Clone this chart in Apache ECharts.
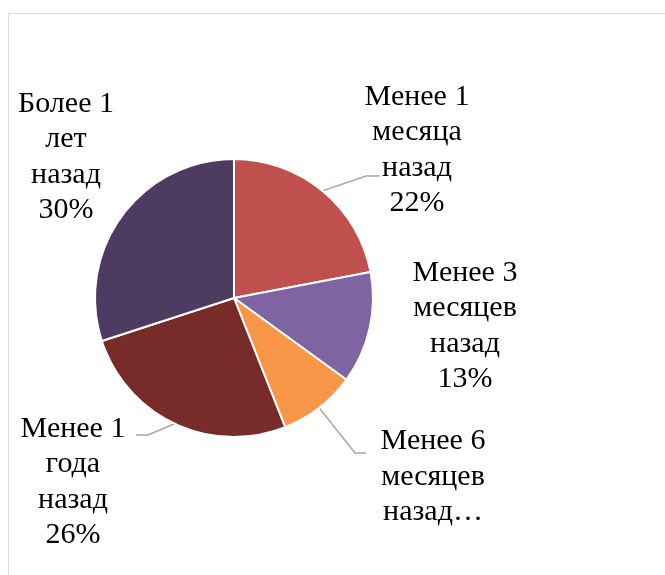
<!DOCTYPE html>
<html><head><meta charset="utf-8">
<script src="https://cdn.jsdelivr.net/npm/echarts@6/dist/echarts.min.js"></script>
<style>html,body{margin:0;padding:0;background:#fff}#c{width:665px;height:575px}</style>
</head><body><div id="c"></div>
<script>
const categories = ['Менее 1 месяца назад','Менее 3 месяцев назад','Менее 6 месяцев назад','Менее 1 года назад','Более 1 лет назад'];
const values = [22, 13, 9, 26, 30];
const labelTexts = ['Менее 1\nмесяца\nназад\n22%','Менее 3\nмесяцев\nназад\n13%','Менее 6\nмесяцев\nназад…','Менее 1\nгода\nназад\n26%','Более 1\nлет\nназад\n30%'];
const colors = ['#C0504D','#8064A2','#F79646','#772C2A','#4D3B62'];
const showLines = [true,false,true,true,false];
const labelPos = [[417,150],[465,326],[433,477],[73,482],[66,157]];
// leader line bend/end offsets relative to label centre
const leaderOffsets = [[[-51,26],[-37,26]],null,[[-78,-24],[-67,-24]],[[75,-47],[63,-47]],null];

const chart = echarts.init(document.getElementById('c'), null, {renderer:'canvas'});
chart.setOption({
  animation:false,
  graphic:[{type:'rect',shape:{x:8.5,y:13.5,width:700,height:620},style:{fill:'none',stroke:'#d9d9d9',lineWidth:1},silent:true}],
  series:[{
    type:'pie',
    center:[234,298],
    radius:139,
    startAngle:90,
    clockwise:true,
    data:categories.map((n,i)=>({name:n,value:values[i],itemStyle:{color:colors[i]},labelLine:{show:showLines[i]}})),
    itemStyle:{borderColor:'#fff',borderWidth:2},
    label:{show:true,position:'outside',overflow:'none',formatter:p=>labelTexts[p.dataIndex],fontFamily:'Liberation Serif',fontSize:30,lineHeight:35.5,color:'#000',align:'center'},
    labelLine:{lineStyle:{color:'#a6a6a6',width:1.5},length:15,length2:15},
    labelLayout:p=>{
      const i=p.dataIndex, c=labelPos[i];
      const o={x:c[0],y:c[1],align:'center',verticalAlign:'middle'};
      const off=leaderOffsets[i];
      if(off && p.labelLinePoints){
        o.labelLinePoints=[p.labelLinePoints[0],[c[0]+off[0][0],c[1]+off[0][1]],[c[0]+off[1][0],c[1]+off[1][1]]];
      }
      return o;
    }
  }]
});
</script></body></html>
